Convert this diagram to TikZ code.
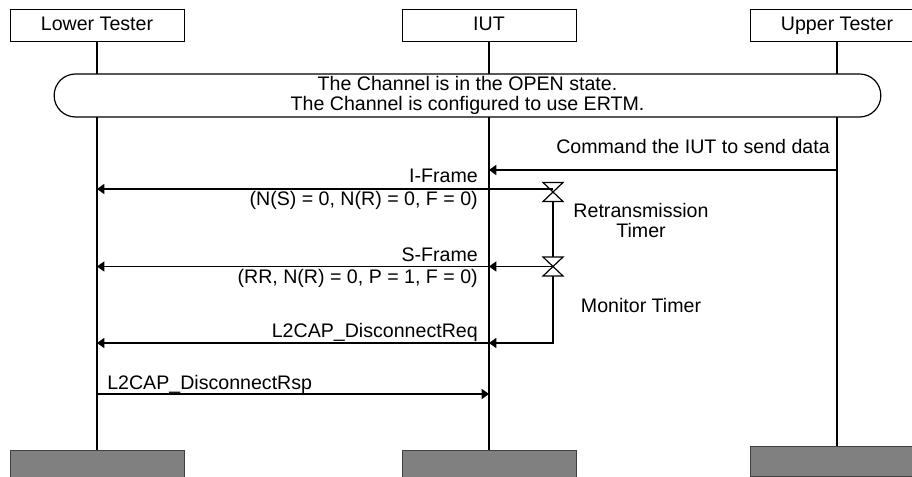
\documentclass[tikz,border=0pt]{standalone}
\usepackage{fontspec}
\setmainfont{Liberation Sans}
\usetikzlibrary{arrows.meta,calc}

\begin{document}
\begin{tikzpicture}[
  x=0.75pt, y=-0.75pt,
  font=\fontsize{14.7}{15}\selectfont,
  ent/.style={draw, line width=0.75pt, minimum width=130.5pt, minimum height=24pt, inner sep=0pt, text height=10.5pt, text depth=3pt},
  foot/.style={draw=black!75, fill=black!50, line width=0.75pt, minimum width=130.5pt, minimum height=22.5pt, inner sep=0pt},
  life/.style={line width=1.5pt},
  msg/.style={-{Triangle[length=5.5pt, width=7.5pt]}, line width=1.2pt},
  tline/.style={line width=1.2pt},
  lbl/.style={inner sep=0pt},
  hglass/.pic={\draw[line width=0.9pt] (-10,-9.5) -- (10,-9.5) -- (-10,9.5) -- (10,9.5) -- cycle;}]
\useasboundingbox (0,0) rectangle (912,477);
\clip (0,0) rectangle (912,477);
% entities and lifelines
\node[ent] (lt) at (97,26) {Lower Tester};
\node[ent] (iut) at (489,26) {IUT};
\node[ent] (ut) at (837,26) {Upper Tester};
\node[foot] (ltf) at (97,465) {};
\node[foot] (iutf) at (489,465) {};
\node[foot] (utf) at (837,461) {};
\draw[life] (lt) -- (ltf);
\draw[life] (iut) -- (iutf);
\draw[life] (ut) -- (utf);
% precondition
\node[draw, fill=white, line width=0.9pt, rounded corners=16pt, minimum width=620pt, minimum height=32.25pt, align=center, inner sep=0pt] (pre) at (467.5,95.5)
  {The Channel is in the OPEN state.\\The Channel is configured to use ERTM.};
% message rows
\coordinate (m1) at (0,170);
\coordinate (m2) at (0,189);
\coordinate (m3) at (0,266.5);
\coordinate (m4) at (0,343);
\coordinate (m5) at (0,394);
\coordinate (t1) at (553,192);
\coordinate (t2) at (553,266.5);
\draw[msg] (ut |- m1) -- (iut |- m1);
\node[lbl, anchor=base east] (cmd) at (830,154) {Command the IUT to send data};
\draw[msg] (t1 |- m2) -- (lt |- m2);
\node[lbl, anchor=base east] (ifr) at (478,183) {I-Frame};
\node[lbl, anchor=base east] (ifrp) at (478,205) {(N(S) = 0, N(R) = 0, F = 0)};
\draw[msg] (t2) -- (iut |- m3);
\draw[msg] (iut |- m3) -- (lt |- m3);
\node[lbl, anchor=base east] (sfr) at (478,261) {S-Frame};
\node[lbl, anchor=base east] (sfrp) at (478,283) {(RR, N(R) = 0, P = 1, F = 0)};
\draw[msg] (iut |- m4) -- (lt |- m4);
\node[lbl, anchor=base east] (dreq) at (478,337) {L2CAP\_DisconnectReq};
\draw[msg] (lt |- m5) -- (iut |- m5);
\node[lbl, anchor=base west] (drsp) at (107,389) {L2CAP\_DisconnectRsp};
% timers
\pic at (t1) {hglass};
\pic at (t2) {hglass};
\draw[tline] ($(t1)+(0,9.5)$) -- ($(t2)+(0,-9.5)$);
\draw[msg] ($(t2)+(0,9.5)$) |- (iut |- m4);
\node[lbl, align=center, anchor=base] (rtx) at (641,237) {Retransmission\\Timer};
\node[lbl, anchor=base] (mon) at (641,312) {Monitor Timer};
\end{tikzpicture}
\end{document}
